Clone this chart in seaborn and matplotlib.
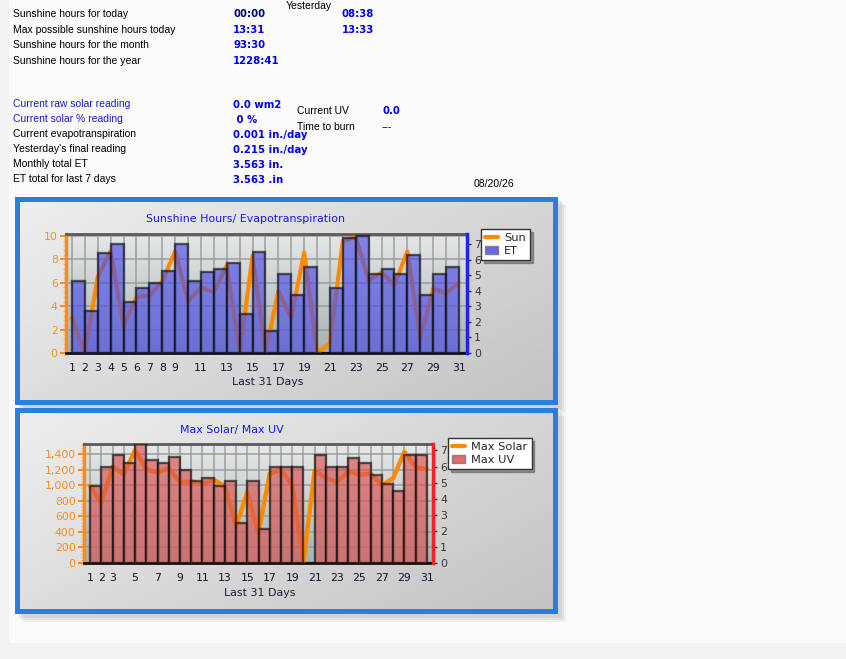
import numpy as np
import matplotlib
matplotlib.use("Agg")
import matplotlib.pyplot as plt
import matplotlib.patches as mpatches
from matplotlib.lines import Line2D
from matplotlib.ticker import MultipleLocator, FuncFormatter
import seaborn as sns

# data
days = list(range(1, 32))
sun_hours = [3.0, 0.0, 6.5, 8.7, 2.3, 4.8, 4.9, 6.1, 8.7, 4.4, 5.6, 5.2, 7.5, 0.0, 8.3, 0.0,
             5.3, 3.0, 8.6, 0.0, 0.8, 9.6, 9.9, 6.2, 6.9, 5.8, 8.7, 1.2, 5.5, 5.1, 6.0]
et_mm = [4.6, 2.7, 6.4, 7.0, 3.3, 4.2, 4.5, 5.3, 7.0, 4.6, 5.2, 5.4, 5.8, 2.5, 6.5, 1.4,
         5.1, 3.7, 5.5, 0.0, 4.2, 7.4, 7.5, 5.1, 5.4, 5.1, 6.3, 3.7, 5.1, 5.5, 0.03]
max_solar = [995, 770, 1240, 1140, 1450, 1205, 1160, 1220, 1035, 1050, 1012, 1072, 983, 472, 910, 385,
             1150, 1200, 1000, 0, 1185, 1095, 1040, 1175, 1137, 1148, 1000, 1090, 1430, 1235, 1205]
max_uv = [4.8, 6.0, 6.7, 6.2, 7.4, 6.4, 6.2, 6.6, 5.8, 5.1, 5.3, 4.8, 5.1, 2.5, 5.1, 2.1,
          6.0, 6.0, 6.0, 0.0, 6.7, 6.0, 6.0, 6.5, 6.2, 5.5, 4.9, 4.5, 6.7, 6.7, 0.0]
labels_top = ["1", "2", "3", "4", "5", "6", "7", "8", "9"] + [str(d) if d % 2 else "" for d in range(10, 32)]
labels_bottom = ["1", "2", "3"] + [str(d) if d % 2 else "" for d in range(4, 32)]

info_left = [("Sunshine hours for today", "00:00", "08:38"),
             ("Max possible sunshine hours today", "13:31", "13:33"),
             ("Sunshine hours for the month", "93:30", None),
             ("Sunshine hours for the year", "1228:41", None)]
info_et = [("Current raw solar reading", "0.0 wm2"),
           ("Current solar % reading", " 0 %"),
           ("Current evapotranspiration", "0.001 in./day"),
           ("Yesterday's final reading", "0.215 in./day"),
           ("Monthly total ET", "3.563 in."),
           ("ET total for last 7 days", "3.563 .in")]

sns.set_style("white")
plt.rcParams["font.family"] = ["DejaVu Sans"]

W, H = 846, 659
fig = plt.figure(figsize=(W / 100, H / 100), dpi=100, facecolor="#f2f2f2")


def box(l, t, r, b):
    return [l / W, 1 - b / H, (r - l) / W, (b - t) / H]


def ftext(x, y, s, **kw):
    fig.text(x / W, 1 - y / H, s, va="center", **kw)


def blank(a):
    a.set_xticks([]); a.set_yticks([])
    for s in a.spines.values():
        s.set_visible(False)


# page background
bg = fig.add_axes([9 / W, 1 - 643 / H, 1 - 9 / W, 643 / H], zorder=-5)
bg.set_facecolor("#fbfbfb")
blank(bg)

# header text
lab_font = dict(family="Liberation Sans", fontsize=7.5)
val_font = dict(family="DejaVu Sans", fontsize=7.3, fontweight="bold")
ftext(286, 6, "Yesterday", color="black", **lab_font)
for i, (lab, v, yv) in enumerate(info_left):
    y = 14 + i * 15.7
    ftext(13, y, lab, color="black", **lab_font)
    ftext(233, y, v, color="#000080" if i == 0 else "#0000ee", **val_font)
    if yv:
        ftext(342, y, yv, color="#0000ee", **val_font)
for i, (lab, v) in enumerate(info_et):
    y = 104 + i * 15.1
    ftext(13, y, lab, color="#1a1acc" if i < 2 else "black", **lab_font)
    ftext(233, y + 0.5, v, color="#0000ee", **val_font)
ftext(297, 111, "Current UV", color="black", **lab_font)
ftext(382, 111, "0.0", color="#0000ee", **val_font)
ftext(297, 127, "Time to burn", color="black", **lab_font)
ftext(382, 127, "---", color="black", **lab_font)
ftext(474, 184, "08/20/26", color="black", **lab_font)


def panel(l, t, r, b):
    # soft shadow
    for k, a in [(9, 0.10), (7, 0.12), (5, 0.16)]:
        sh = fig.add_axes(box(l + k, t + k, r + k, b + k), zorder=0)
        sh.set_facecolor("#8a8a8a")
        sh.patch.set_alpha(a)
        blank(sh)
    p = fig.add_axes(box(l + 2.5, t + 2.5, r - 2.5, b - 2.5), zorder=1)
    yy, xx = np.mgrid[0:1:50j, 0:1:100j]
    p.imshow(0.6 * xx + 0.4 * yy, cmap=matplotlib.colors.LinearSegmentedColormap.from_list(
        "pn", ["#efefef", "#c4c4c4"]), extent=[0, 1, 0, 1], aspect="auto", origin="upper")
    p.set_xlim(0, 1); p.set_ylim(0, 1)
    p.set_xticks([]); p.set_yticks([])
    for s in p.spines.values():
        s.set_color("#2b7ddf")
        s.set_linewidth(3.6)


plot_cmap = matplotlib.colors.LinearSegmentedColormap.from_list("pl", ["#e6e8e8", "#a6b2b2"])


def chart(rect, title_xy, title, line_vals, bar_vals, bar_color, right_color, line_w,
          xlim, ylim_l, ylim_r, ystep, yminor, xlabels, leg_xy, names, xlabel_xy, fmt=None):
    ax = fig.add_axes(box(*rect), zorder=2)
    ax.imshow(np.linspace(0, 1, 50).reshape(-1, 1), cmap=plot_cmap, extent=[0, 1, 0, 1],
              transform=ax.transAxes, aspect="auto", origin="upper", zorder=0)
    sns.lineplot(x=days, y=line_vals, ax=ax, color="#ff8a00", linewidth=line_w, zorder=3)
    ax.set_xlim(*xlim)
    ax.set_ylim(*ylim_l)
    ax.set_axisbelow(True)
    ax.set_xticks(days)
    ax.set_xticklabels(xlabels)
    ax.yaxis.set_major_locator(MultipleLocator(ystep))
    ax.yaxis.set_minor_locator(MultipleLocator(yminor))
    ax.xaxis.set_minor_locator(MultipleLocator(0.25))
    if fmt:
        ax.yaxis.set_major_formatter(FuncFormatter(fmt))
    ax.grid(True, which="major", color="#9a9a9a", linewidth=1.3, alpha=0.8)
    ax.tick_params(axis="y", which="major", colors="#ff8c1a", labelsize=7.8, length=4, width=1.5, pad=2)
    ax.tick_params(axis="y", which="minor", colors="#ffb070", length=2.5, width=1)
    ax.tick_params(axis="x", which="major", colors="#888888", labelcolor="#101030", labelsize=7.8,
                   length=4, width=1, pad=3.5)
    ax.tick_params(axis="x", which="minor", colors="#b0b0b0", length=2, width=0.8)
    ax.spines["left"].set_color("#ff8c1a"); ax.spines["left"].set_linewidth(2.5)
    ax.spines["bottom"].set_color("#111111"); ax.spines["bottom"].set_linewidth(2)
    ax.spines["top"].set_color("#5a5a5a"); ax.spines["top"].set_linewidth(2)
    ax.set_xlabel(""); ax.set_ylabel("")

    ax2 = ax.twinx()
    ax2.set_zorder(3)
    sns.barplot(x=[d + 0.5 for d in days], y=bar_vals, ax=ax2, native_scale=True, width=1,
                color=bar_color, saturation=1, alpha=0.66, edgecolor="#111111", linewidth=1.7,
                errorbar=None)
    ax2.set_xlim(*xlim)
    ax2.set_ylim(*ylim_r)
    ax2.yaxis.set_major_locator(MultipleLocator(1))
    ax2.tick_params(axis="y", colors="#333333", labelsize=7.8, length=3, width=1, pad=2)
    for s in ["left", "top", "bottom"]:
        ax2.spines[s].set_visible(False)
    ax2.spines["right"].set_color(right_color); ax2.spines["right"].set_linewidth(2.5)
    ax2.set_xlabel(""); ax2.set_ylabel("")

    fig.text(title_xy[0] / W, 1 - title_xy[1] / H, title, color="#1515ff", fontsize=7.9,
             ha="center", va="center")
    fig.text(xlabel_xy[0] / W, 1 - xlabel_xy[1] / H, "Last 31 Days", color="#1a1a3a", fontsize=7.9,
             ha="center", va="center")
    handles = [Line2D([0], [0], color="#ff8a00", linewidth=3),
               mpatches.Patch(facecolor=bar_color, edgecolor="#777777", alpha=0.85)]
    leg = ax2.legend(handles, names, loc="upper left", bbox_to_anchor=(leg_xy[0] / W, 1 - leg_xy[1] / H),
                     bbox_transform=fig.transFigure, borderaxespad=0, fontsize=8.2, frameon=True,
                     fancybox=False, shadow=True, handlelength=1.1, handletextpad=0.6,
                     borderpad=0.35, labelspacing=0.25)
    leg.get_frame().set_edgecolor("#333333")
    leg.get_frame().set_linewidth(1)
    return ax, ax2


panel(14, 196, 557, 404)
panel(14, 407, 557, 613)

chart((66, 234, 467, 353), (245, 219), "Sunshine Hours/ Evapotranspiration", sun_hours, et_mm,
      "#4e4ee8", "#2020ff", 3, (0.54, 31.62), (0, 10.17), (0, 7.65), 2, 0.4, labels_top,
      (481, 229), ["Sun", "ET"], (268, 382))
chart((84, 444, 433, 563), (232, 430), "Max Solar/ Max UV", max_solar, max_uv,
      "#dc5252", "#ff2020", 3.2, (0.45, 31.55), (0, 1530), (0, 7.4), 200, 40, labels_bottom,
      (448, 438), ["Max Solar", "Max UV"], (260, 593), fmt=lambda v, p: f"{int(v):,}")

fig.savefig("out.png", dpi=100, facecolor=fig.get_facecolor())
